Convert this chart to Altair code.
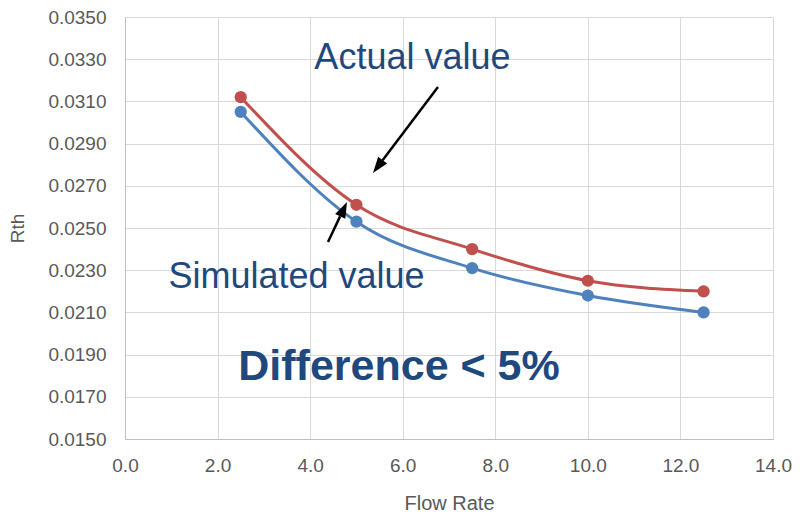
import altair as alt
import pandas as pd

flow = [2.5, 5.0, 7.5, 10.0, 12.5]
actual = [0.0312, 0.0261, 0.0240, 0.0225, 0.0220]
simulated = [0.0305, 0.0253, 0.0231, 0.0218, 0.0210]

series_names = ["Actual value", "Simulated value"]
series_colors = ["#C0504D", "#4F81BD"]

x_ticks = [0, 2, 4, 6, 8, 10, 12, 14]
y_ticks = [0.015, 0.017, 0.019, 0.021, 0.023, 0.025, 0.027, 0.029, 0.031, 0.033, 0.035]

# annotation texts (data-space anchors)
ann_text = ["Actual value", "Simulated value", "Difference < 5%"]
ann_x = [6.21, 3.705, 5.92]
ann_y = [0.03254, 0.02216, 0.01780]
ann_size = [36, 36, 43]
ann_weight = ["normal", "normal", "bold"]

# arrows (data-space)
arr_x = [6.762, 4.386]
arr_y = [0.031682, 0.024336]
arr_x2 = [5.565, 4.647]
arr_y2 = [0.028213, 0.02555]
head_x = [5.462, 4.723]
head_y = [0.02791, 0.025891]
head_angle = [217, 25]

rows = []
for name, vals in zip(series_names, [actual, simulated]):
    for f, v in zip(flow, vals):
        rows.append({"Flow Rate": f, "Rth": v, "series": name})
df = pd.DataFrame(rows)

xs = alt.Scale(domain=[0, 14], nice=False, zero=False)
ys = alt.Scale(domain=[0.015, 0.035], nice=False, zero=False)
color = alt.Color("series:N", scale=alt.Scale(domain=series_names, range=series_colors), legend=None)

font = "Liberation Sans"
base = alt.Chart(df).encode(
    x=alt.X("Flow Rate:Q", scale=xs, axis=alt.Axis(
        values=x_ticks, format=".1f", title="Flow Rate", grid=True, ticks=False, tickSize=0,
        labelFlush=False, labelPadding=17, titlePadding=18, labelFont=font, titleFont=font,
        labelFontSize=19, titleFontSize=20, labelColor="#595959", titleColor="#595959",
        titleFontWeight="normal", gridColor="#d9d9d9", domainColor="#bfbfbf")),
    y=alt.Y("Rth:Q", scale=ys, axis=alt.Axis(
        values=y_ticks, format=".4f", title="Rth", grid=True, ticks=False, tickSize=0,
        labelFlush=False, labelPadding=19, titlePadding=20, labelFont=font, titleFont=font,
        labelFontSize=19, titleFontSize=19, labelColor="#595959", titleColor="#595959",
        titleFontWeight="normal", gridColor="#d9d9d9", domainColor="#bfbfbf")),
    color=color,
    detail="series:N",
)

lines = base.mark_line(strokeWidth=3, interpolate="monotone")
points = base.mark_circle(size=150, opacity=1)

ann_df = pd.DataFrame({"text": ann_text, "x": ann_x, "y": ann_y, "size": ann_size, "weight": ann_weight})
texts = []
for i in range(len(ann_text)):
    texts.append(
        alt.Chart(ann_df.iloc[[i]]).mark_text(
            font=font, fontSize=ann_size[i], fontWeight=ann_weight[i], color="#1F497D",
            align="center", baseline="alphabetic"
        ).encode(x=alt.X("x:Q", scale=xs), y=alt.Y("y:Q", scale=ys), text="text:N")
    )

arr_df = pd.DataFrame({"x": arr_x, "y": arr_y, "x2": arr_x2, "y2": arr_y2,
                       "hx": head_x, "hy": head_y, "angle": head_angle})
arrow_lines = alt.Chart(arr_df).mark_rule(color="black", strokeWidth=2.5).encode(
    x=alt.X("x:Q", scale=xs), y=alt.Y("y:Q", scale=ys), x2="x2:Q", y2="y2:Q")
arrow_heads = alt.Chart(arr_df).mark_point(
    shape="M0,-1L-0.7,1L0.7,1Z", filled=True, color="black", size=256, opacity=1
).encode(x=alt.X("hx:Q", scale=xs), y=alt.Y("hy:Q", scale=ys),
         angle=alt.Angle("angle:Q", scale=None))

chart = alt.layer(lines, points, arrow_lines, arrow_heads, *texts).properties(
    width=648, height=422,
    autosize=alt.AutoSizeParams(type="none"),
    padding={"left": 117, "top": 9, "right": 20, "bottom": 74},
    background="white",
).configure_view(strokeWidth=0)

chart.save("out.html", embed_options={"renderer": "svg", "actions": False})
